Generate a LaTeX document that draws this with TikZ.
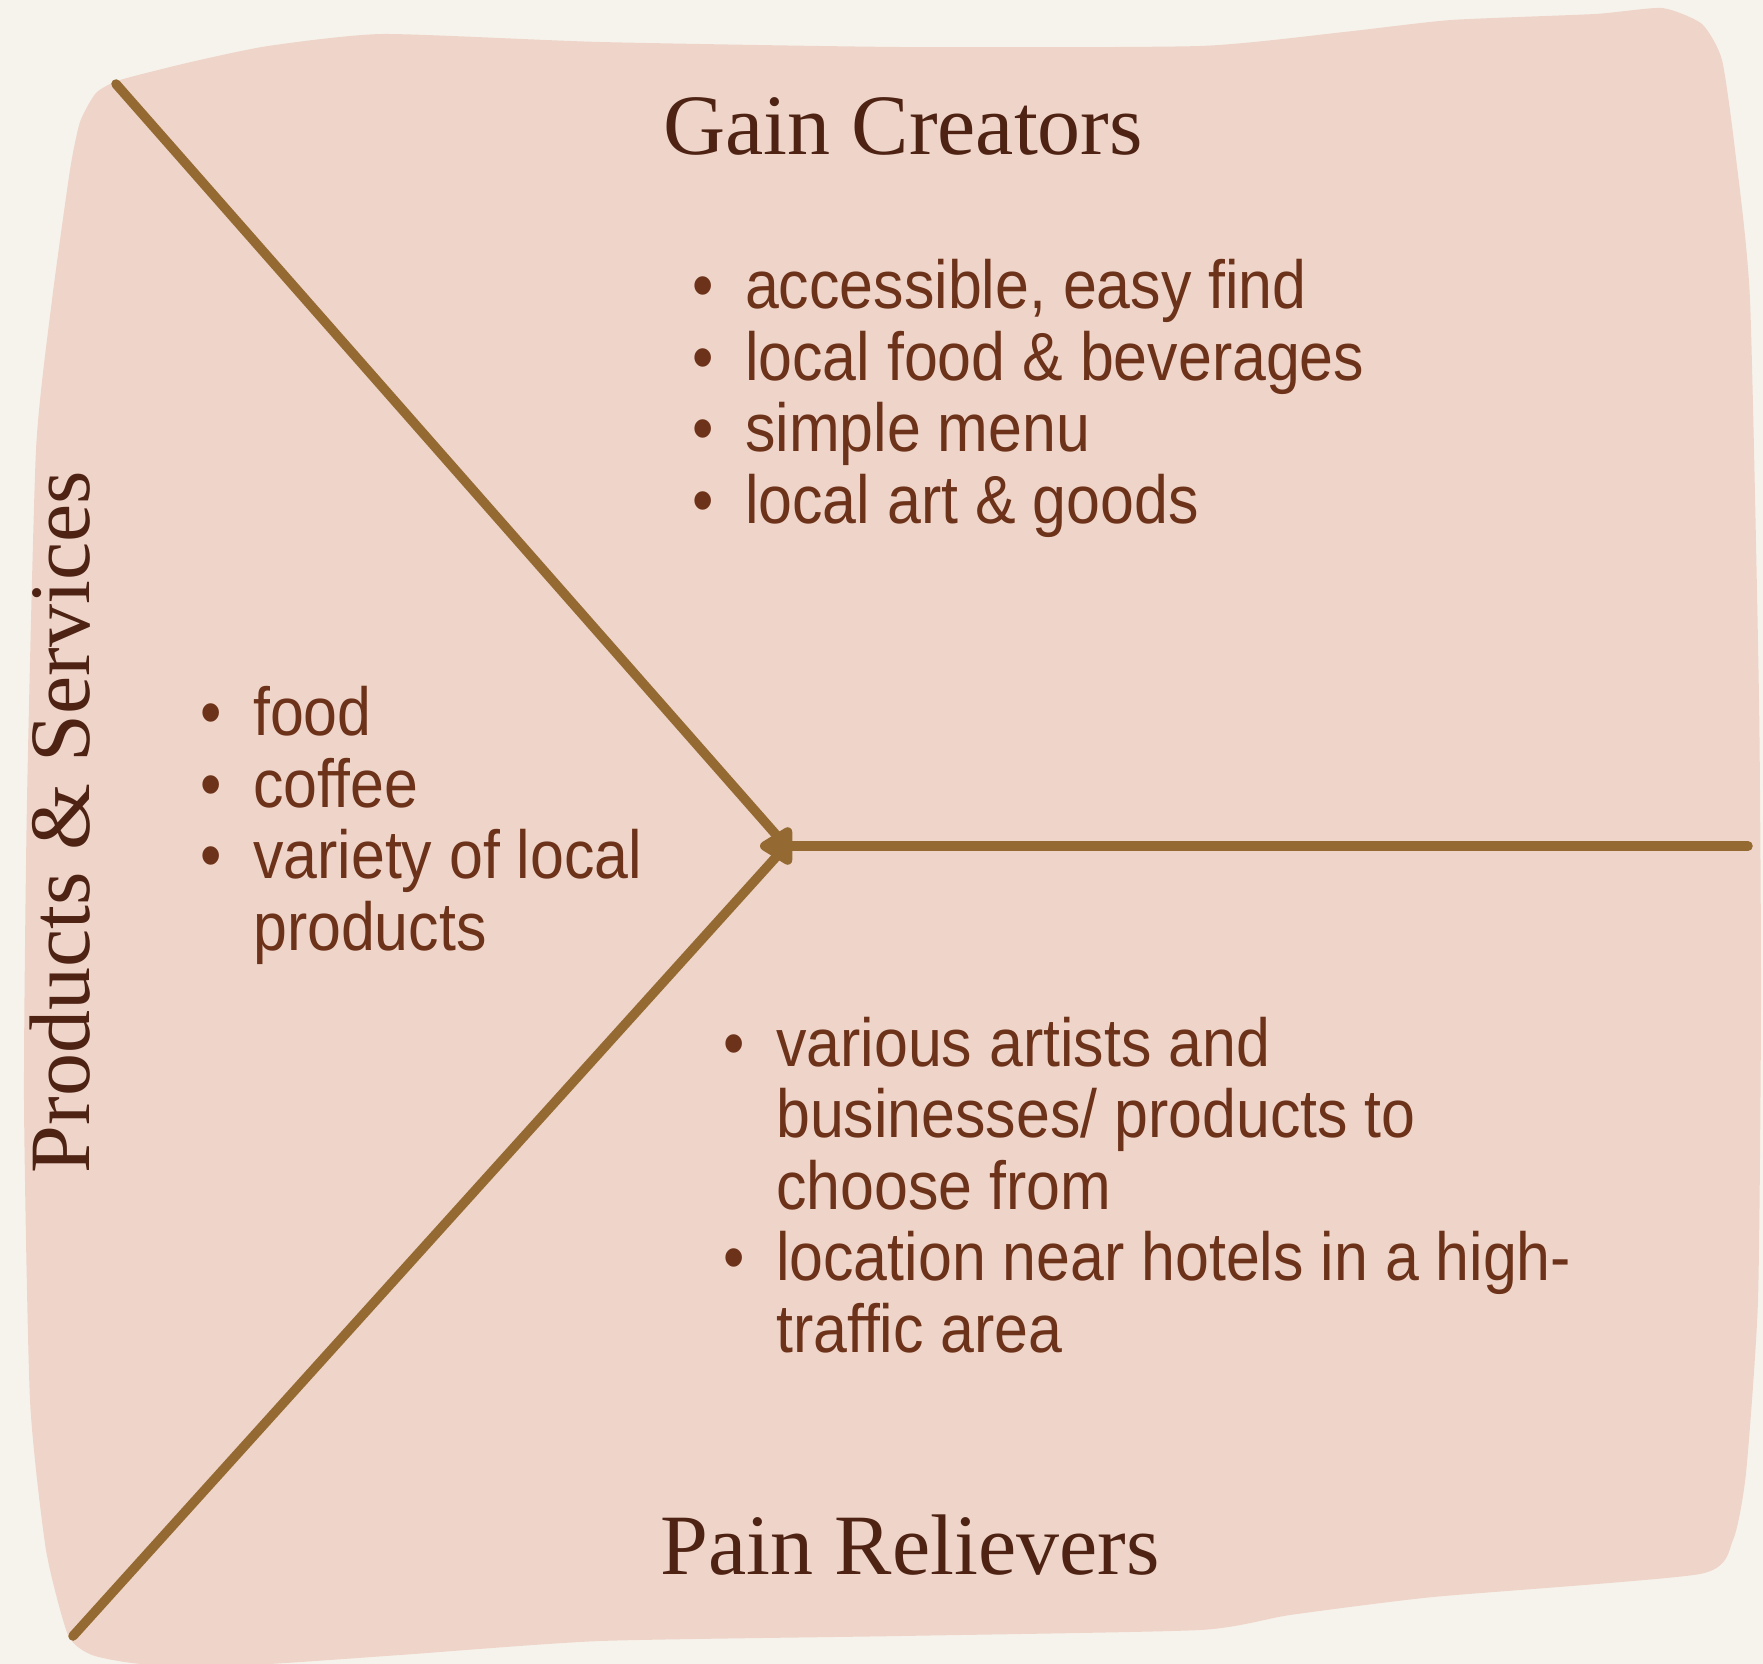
\documentclass[tikz,border=0pt]{standalone}
\usepackage{fontspec}
\setmainfont{Liberation Serif}
\newfontfamily\bodyfont[FakeStretch=0.895]{Liberation Sans}
\usetikzlibrary{arrows.meta}

\definecolor{paper}{HTML}{F6F3EC}
\definecolor{blush}{HTML}{EFD5C9}
\definecolor{stem}{HTML}{956A32}
\definecolor{ink}{HTML}{6D321A}
\definecolor{headink}{HTML}{4E2314}

\tikzset{
  heading/.style={font=\fontsize{86}{90}\selectfont, text=headink, inner sep=0pt, anchor=base},
  bullets/.style={font=\bodyfont\fontsize{68}{71.4}\selectfont, text=ink, inner sep=0pt, anchor=base west, align=left},
  spoke/.style={draw=stem, line width=9.5pt, line cap=round},
}
\newcommand{\bpt}{\makebox[53pt][l]{\textbullet}}
\newcommand{\bgap}{\hspace*{53pt}}

\begin{document}
\begin{tikzpicture}[x=1pt,y=-1pt]
  % page
  \fill[paper] (0,0) rectangle (1763,1664);
  \useasboundingbox (0,0) rectangle (1763,1664);

  % hand-drawn canvas shape
  \fill[blush] plot[smooth cycle, tension=0.35] coordinates {
    (96,93) (120,80) (191,62) (268,46) (383,34) (600,42) (900,47) (1200,46)
    (1344,32) (1451,20) (1595,14) (1662,8) (1702,24) (1722,60) (1735,150)
    (1750,300) (1759,700) (1761,1000) (1758,1300) (1746,1473) (1733,1540)
    (1700,1574) (1433,1597) (1290,1615) (1200,1630) (900,1636)
    (600,1641) (400,1655) (250,1665) (142,1664) (92,1655) (68,1635)
    (46,1550) (30,1400) (24,1100) (27,800) (36,450) (52,300)
    (70,170) (80,122)
  };

  % spokes
  \coordinate (tl)  at (116,84);
  \coordinate (bl)  at (73,1636);
  \coordinate (hub) at (786,846);
  \coordinate (tip) at (760,846);
  \coordinate (rt)  at (1748,846);
  \draw[spoke] (tl) -- (hub);
  \draw[spoke] (bl) -- (hub);
  \draw[spoke, {Triangle[round,length=37pt,width=42pt]}-] (tip) -- (rt);

  % headings
  \node[heading] (gain) at (903,155) {Gain Creators};
  \node[heading] (pain) at (910,1574) {Pain Relievers};
  \node[heading, rotate=90] (prod) at (89,822) {Products \& Services};

  % lists (anchored on the baseline of their last line)
  \node[bullets] (gainlist) at (692,523) {%
    \bpt accessible, easy find\\
    \bpt local food \& beverages\\
    \bpt simple menu\\
    \bpt local art \& goods};
  \node[bullets] (prodlist) at (200,950) {%
    \bpt food\\
    \bpt coffee\\
    \bpt variety of local\\
    \bgap products};
  \node[bullets] (painlist) at (723,1352) {%
    \bpt various artists and\\
    \bgap businesses/ products to\\
    \bgap choose from\\
    \bpt location near hotels in a high-\\
    \bgap traffic area};
\end{tikzpicture}
\end{document}
